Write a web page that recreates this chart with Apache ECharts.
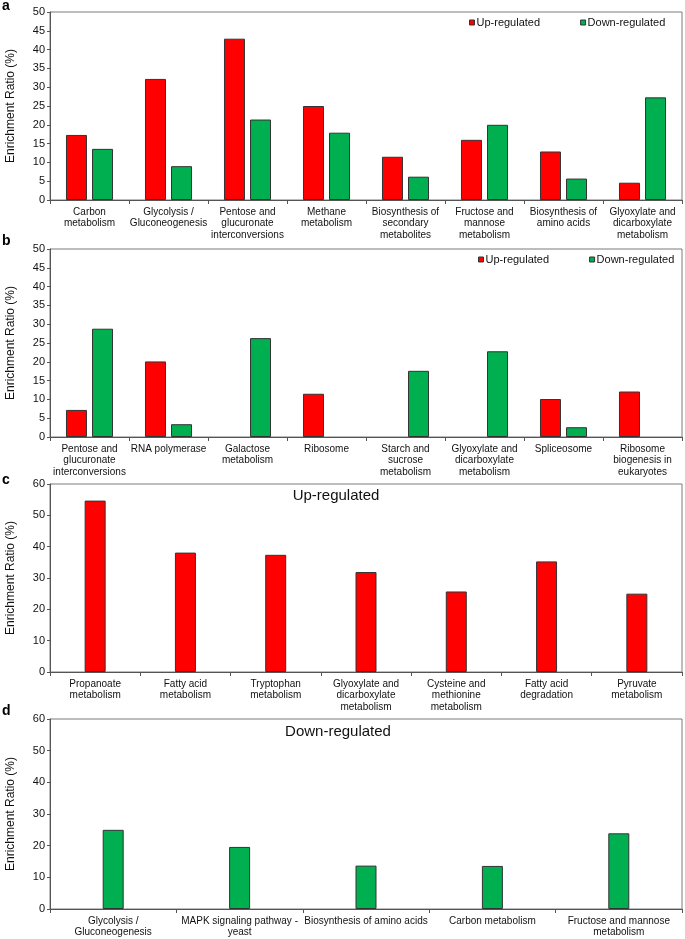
<!DOCTYPE html>
<html>
<head>
<meta charset="utf-8">
<script src="https://cdn.jsdelivr.net/npm/echarts@6/dist/echarts.min.js"></script>
<style>
html,body{margin:0;padding:0;background:#fff;}
#chart{width:685px;height:939px;}
</style>
</head>
<body>
<div id="chart"></div>
<script>
// ---- Data ----
var catsA = ['Carbon\nmetabolism', 'Glycolysis /\nGluconeogenesis', 'Pentose and\nglucuronate\ninterconversions', 'Methane\nmetabolism', 'Biosynthesis of\nsecondary\nmetabolites', 'Fructose and\nmannose\nmetabolism', 'Biosynthesis of\namino acids', 'Glyoxylate and\ndicarboxylate\nmetabolism'];
var upA = [17.3, 32.2, 42.9, 25.0, 11.5, 16.0, 12.9, 4.6];
var downA = [13.6, 9.0, 21.4, 17.9, 6.2, 20.0, 5.7, 27.3];

var catsB = ['Pentose and\nglucuronate\ninterconversions', 'RNA polymerase', 'Galactose\nmetabolism', 'Ribosome', 'Starch and\nsucrose\nmetabolism', 'Glyoxylate and\ndicarboxylate\nmetabolism', 'Spliceosome', 'Ribosome\nbiogenesis in\neukaryotes'];
var upB = [7.2, 20.1, null, 11.5, null, null, 10.1, 12.1];
var downB = [28.8, 3.4, 26.3, null, 17.6, 22.8, 2.6, null];

var catsC = ['Propanoate\nmetabolism', 'Fatty acid\nmetabolism', 'Tryptophan\nmetabolism', 'Glyoxylate and\ndicarboxylate\nmetabolism', 'Cysteine and\nmethionine\nmetabolism', 'Fatty acid\ndegradation', 'Pyruvate\nmetabolism'];
var upC = [54.7, 38.1, 37.4, 31.9, 25.7, 35.3, 25.0];

var catsD = ['Glycolysis /\nGluconeogenesis', 'MAPK signaling pathway -\nyeast', 'Biosynthesis of amino acids', 'Carbon metabolism', 'Fructose and mannose\nmetabolism'];
var downD = [25.0, 19.6, 13.7, 13.6, 23.9];

var legendNames = ['Up-regulated', 'Down-regulated'];
var panelLetters = ['a', 'b', 'c', 'd'];
var panelTitles = ['Up-regulated', 'Down-regulated'];
var yName = 'Enrichment Ratio (%)';

// ---- Styles ----
var FONT = '"Liberation Sans", Arial, sans-serif';
var RED = '#FF0000', GREEN = '#00B050';
var grids = [
  {left: 50, right: 3, top: 12, height: 188},
  {left: 50, right: 3, top: 249, height: 188},
  {left: 50, right: 3, top: 484, height: 188},
  {left: 50, right: 3, top: 719, height: 190}
];
grids.forEach(function (g) {
  g.show = true; g.borderColor = '#7a7a7a'; g.borderWidth = 1; g.backgroundColor = 'transparent';
  g.containLabel = false; g.outerBoundsMode = 'none';
});

function xAx(i, cats) {
  return {
    type: 'category', gridIndex: i, data: cats,
    axisLine: {show: true, lineStyle: {color: '#555', width: 1}},
    axisTick: {show: true, length: 4, lineStyle: {color: '#555'}},
    axisLabel: {interval: 0, fontSize: 10, lineHeight: 11.5, color: '#111', fontFamily: FONT, margin: 6}
  };
}
function yAx(i, max, step) {
  return {
    type: 'value', gridIndex: i, min: 0, max: max, interval: step,
    name: yName, nameLocation: 'middle', nameGap: 33, nameRotate: 90,
    nameTextStyle: {fontSize: 12, color: '#111', fontFamily: FONT},
    splitLine: {show: false},
    axisLine: {show: true, lineStyle: {color: '#555', width: 1}},
    axisTick: {show: true, length: 3, lineStyle: {color: '#555'}},
    axisLabel: {fontSize: 11, color: '#111', fontFamily: FONT, margin: 5}
  };
}
function bar(name, data, color, i) {
  return {
    name: name, type: 'bar', xAxisIndex: i, yAxisIndex: i, data: data,
    barWidth: 21, barGap: '24%',
    itemStyle: {color: color, borderColor: '#333', borderWidth: 1},
    emphasis: {disabled: true}, animation: false
  };
}
function legend(left, top) {
  return {
    data: legendNames, left: left, top: top, itemWidth: 5, itemHeight: 5, icon: 'rect',
    itemGap: 40, padding: 0, selectedMode: false,
    itemStyle: {borderColor: '#333', borderWidth: 1},
    textStyle: {fontSize: 11, color: '#111', fontFamily: FONT, padding: [0, 0, 0, -3]}
  };
}

var letterTops = [-1, 234, 473, 704];
var graphics = panelLetters.map(function (l, i) {
  return {type: 'text', left: 2, top: letterTops[i], style: {text: l, font: 'bold 14px ' + FONT, fill: '#000'}};
});
graphics.push({type: 'text', x: 336, y: 496, style: {text: panelTitles[0], font: '15px ' + FONT, fill: '#111', textAlign: 'center', textVerticalAlign: 'middle'}});
graphics.push({type: 'text', x: 338, y: 732, style: {text: panelTitles[1], font: '15px ' + FONT, fill: '#111', textAlign: 'center', textVerticalAlign: 'middle'}});

var chart = echarts.init(document.getElementById('chart'), null, {renderer: 'canvas'});
chart.setOption({
  animation: false,
  backgroundColor: '#fff',
  textStyle: {fontFamily: FONT},
  grid: grids,
  legend: [legend(469, 17), legend(478, 254)],
  xAxis: [xAx(0, catsA), xAx(1, catsB), xAx(2, catsC), xAx(3, catsD)],
  yAxis: [yAx(0, 50, 5), yAx(1, 50, 5), yAx(2, 60, 10), yAx(3, 60, 10)],
  series: [
    bar(legendNames[0], upA, RED, 0),
    bar(legendNames[1], downA, GREEN, 0),
    bar(legendNames[0], upB, RED, 1),
    bar(legendNames[1], downB, GREEN, 1),
    bar(legendNames[0], upC, RED, 2),
    bar(legendNames[1], downD, GREEN, 3)
  ],
  graphic: graphics
});
</script>
</body>
</html>
